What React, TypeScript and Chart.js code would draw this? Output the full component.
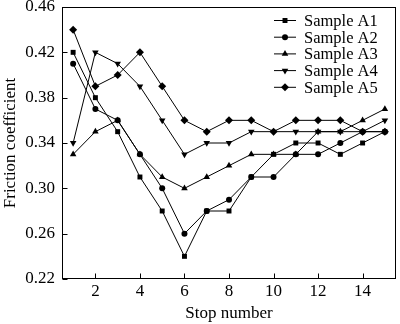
import React, { useEffect, useRef } from "react";
import { Chart, registerables } from "chart.js";
import { drawPoint } from "chart.js/helpers";

Chart.register(...registerables);

const stops = [1, 2, 3, 4, 5, 6, 7, 8, 9, 10, 11, 12, 13, 14, 15];
const xTicks = [2, 4, 6, 8, 10, 12, 14];
const yTicks = [0.22, 0.26, 0.3, 0.34, 0.38, 0.42, 0.46];

const sampleA1 = [0.42, 0.38, 0.35, 0.31, 0.28, 0.24, 0.28, 0.28, 0.31, 0.33, 0.34, 0.34, 0.33, 0.34, 0.35];
const sampleA2 = [0.41, 0.37, 0.36, 0.33, 0.30, 0.26, 0.28, 0.29, 0.31, 0.31, 0.33, 0.33, 0.34, 0.35, 0.35];
const sampleA3 = [0.33, 0.35, 0.36, 0.33, 0.31, 0.30, 0.31, 0.32, 0.33, 0.33, 0.33, 0.35, 0.35, 0.36, 0.37];
const sampleA4 = [0.34, 0.42, 0.41, 0.39, 0.36, 0.33, 0.34, 0.34, 0.35, 0.35, 0.35, 0.35, 0.35, 0.35, 0.36];
const sampleA5 = [0.44, 0.39, 0.40, 0.42, 0.39, 0.36, 0.35, 0.36, 0.36, 0.35, 0.36, 0.36, 0.36, 0.35, 0.35];

const seriesLabels = ["Sample A1", "Sample A2", "Sample A3", "Sample A4", "Sample A5"];
const seriesValues = [sampleA1, sampleA2, sampleA3, sampleA4, sampleA5];
const markerStyles = [
  { style: "rect", radius: 3.5, rotation: 0 },
  { style: "circle", radius: 3, rotation: 0 },
  { style: "triangle", radius: 3.8, rotation: 0 },
  { style: "triangle", radius: 3.8, rotation: 180 },
  { style: "rectRot", radius: 4, rotation: 0 },
];

const FONT = "'Liberation Serif', 'Times New Roman', serif";

const framePlugin = {
  id: "frameTicks",
  afterDraw(chart: any) {
    const { ctx, chartArea } = chart;
    const l = Math.round(chartArea.left) + 0.5;
    const t = Math.round(chartArea.top) + 0.5;
    const r = Math.round(chartArea.right) - 0.5;
    const b = Math.round(chartArea.bottom) - 0.5;
    ctx.save();
    ctx.strokeStyle = "#000";
    ctx.lineWidth = 1;
    ctx.strokeRect(l, t, r - l, b - t);
    ctx.beginPath();
    const xs = chart.scales.x;
    for (const v of xTicks) {
      const px = Math.round(xs.getPixelForValue(v)) + 0.5;
      ctx.moveTo(px, b);
      ctx.lineTo(px, b - 5);
    }
    const ys = chart.scales.y;
    for (const v of yTicks) {
      const py = Math.round(ys.getPixelForValue(v)) + 0.5;
      ctx.moveTo(l, py);
      ctx.lineTo(l + 5, py);
    }
    ctx.stroke();

    // legend
    const right = chartArea.right;
    const lineStart = right - 122;
    const lineEnd = right - 100;
    const textX = right - 92;
    ctx.font = `16.5px ${FONT}`;
    ctx.textBaseline = "middle";
    ctx.textAlign = "left";
    ctx.fillStyle = "#000";
    seriesLabels.forEach((lab, i) => {
      const y = chartArea.top + 13.5 + i * 16.7;
      ctx.beginPath();
      ctx.moveTo(lineStart, y);
      ctx.lineTo(lineEnd, y);
      ctx.stroke();
      const m = markerStyles[i];
      drawPoint(ctx, { pointStyle: m.style as any, rotation: m.rotation, radius: m.radius, borderWidth: 0 }, (lineStart + lineEnd) / 2, y);
      ctx.fillText(lab, textX, y + 1);
    });
    ctx.restore();
  },
};

export default function App() {
  const ref = useRef<HTMLCanvasElement | null>(null);
  useEffect(() => {
    document.body.style.margin = "0";
    const canvas = ref.current!;
    const chart = new Chart(canvas, {
      type: "line",
      data: {
        datasets: seriesValues.map((vals, i) => ({
          label: seriesLabels[i],
          data: stops.map((s, j) => ({ x: s, y: vals[j] })),
          borderColor: "#000",
          backgroundColor: "#000",
          borderWidth: 1,
          pointStyle: markerStyles[i].style as any,
          pointRotation: markerStyles[i].rotation,
          pointRadius: markerStyles[i].radius,
          pointBackgroundColor: "#000",
          pointBorderColor: "#000",
          pointBorderWidth: 0,
          tension: 0,
          fill: false,
        })),
      },
      options: {
        animation: false,
        responsive: false,
        devicePixelRatio: 1,
        layout: { padding: { top: 7, right: 3, left: 0, bottom: 0 } },
        plugins: { legend: { display: false }, tooltip: { enabled: false } },
        scales: {
          x: {
            type: "linear",
            min: 0.5,
            max: 15.5,
            afterBuildTicks: (s: any) => {
              s.ticks = xTicks.map((v) => ({ value: v }));
            },
            afterFit: (s: any) => {
              s.height = 45;
              s.paddingLeft = 0;
              s.paddingRight = 0;
            },
            grid: { display: true, drawOnChartArea: false, drawTicks: false },
            border: { display: false },
            ticks: {
              color: "#000",
              font: { family: FONT, size: 17 },
              padding: 2,
              maxRotation: 0,
              autoSkip: false,
              callback: (v: any) => String(v),
            },
            title: {
              display: true,
              text: "Stop number",
              color: "#000",
              font: { family: FONT, size: 17 },
              padding: { top: 0, bottom: 0 },
            },
          },
          y: {
            type: "linear",
            min: 0.22,
            max: 0.46,
            afterBuildTicks: (s: any) => {
              s.ticks = yTicks.map((v) => ({ value: v }));
            },
            afterFit: (s: any) => {
              s.width = 62;
              s.paddingTop = 0;
              s.paddingBottom = 0;
            },
            grid: { display: true, drawOnChartArea: false, drawTicks: false },
            border: { display: false },
            ticks: {
              color: "#000",
              font: { family: FONT, size: 17 },
              padding: 7,
              autoSkip: false,
              callback: (v: any) => Number(v).toFixed(2),
            },
            title: {
              display: true,
              text: "Friction coefficient",
              color: "#000",
              font: { family: FONT, size: 17 },
              padding: { top: 0, bottom: 0 },
            },
          },
        },
      },
      plugins: [framePlugin],
    });
    return () => chart.destroy();
  }, []);
  return (
    <div style={{ width: 400, height: 324 }}>
      <canvas ref={ref} width={400} height={324} style={{ display: "block" }} />
    </div>
  );
}
